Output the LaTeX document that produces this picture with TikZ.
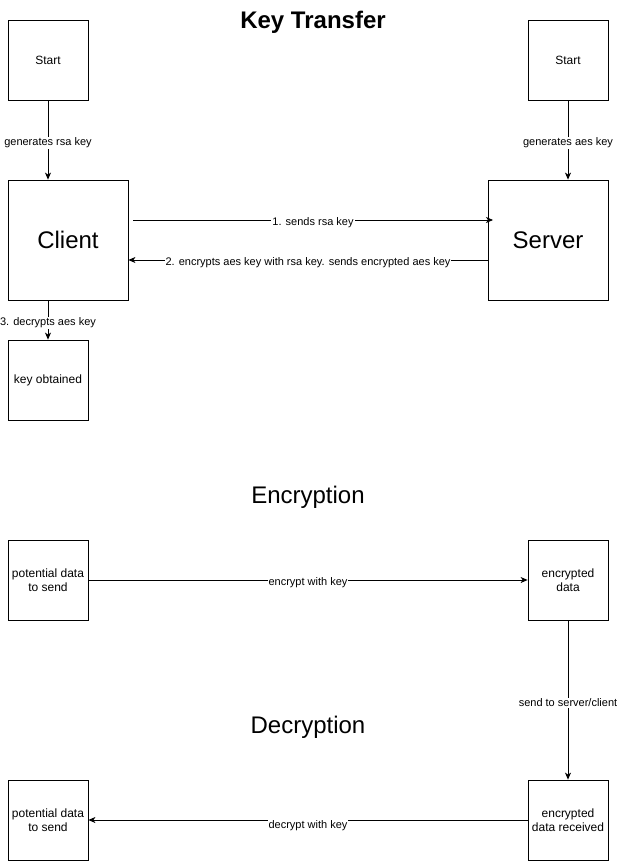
\documentclass[tikz,border=0pt]{standalone}
\usepackage{fontspec}
\setmainfont{Liberation Sans}
\usetikzlibrary{arrows.meta}
\begin{document}
\begin{tikzpicture}[x=1pt,y=-1pt,
  box/.style={draw,line width=0.8pt,minimum width=80pt,minimum height=80pt,inner sep=0pt,align=center,font=\fontsize{12}{14}\selectfont},
  bigbox/.style={box,minimum width=120pt,minimum height=120pt,font=\fontsize{24}{28}\selectfont},
  conn/.style={draw,line width=0.8pt,-{Stealth[length=7pt,width=6pt,inset=2pt]}},
  lbl/.style={fill=white,inner sep=1pt,yshift=-3pt,font=\fontsize{11}{13}\selectfont},
  ttl/.style={yshift=-2pt,font=\fontsize{24}{28}\selectfont}]
\useasboundingbox (0,0) rectangle (618,861);
\node[ttl,font=\fontsize{24}{28}\selectfont\bfseries] (t1) at (313,20) {Key Transfer};
\node[ttl] (t2) at (308,495) {Encryption};
\node[ttl] (t3) at (308,725) {Decryption};
\node[box] (s1) at (48,60) {Start};
\node[box] (s2) at (568,60) {Start};
\node[bigbox] (cl) at (68,240) {Client};
\node[bigbox] (sv) at (548,240) {Server};
\node[box] (ko) at (48,380) {key obtained};
\node[box] (p1) at (48,580) {potential data\\to send};
\node[box] (ed) at (568,580) {encrypted\\data};
\node[box] (er) at (568,820) {encrypted\\data received};
\node[box] (p2) at (48,820) {potential data\\to send};
\coordinate (a1) at (133,220);
\coordinate (a2) at (493,220);
\draw[conn] (s1.south) -- node[lbl]{generates rsa key} (s1.south |- cl.north);
\draw[conn] (s2.south) -- node[lbl]{generates aes key} (s2.south |- sv.north);
\draw[conn] (a1) -- node[lbl]{1. sends rsa key} (a2);
\draw[conn] (sv.west |- 0,260) -- node[lbl]{2. encrypts aes key with rsa key. sends encrypted aes key} (cl.east |- 0,260);
\draw[conn] (ko.north |- cl.south) -- node[lbl]{3. decrypts aes key} (ko.north);
\draw[conn] (p1.east) -- node[lbl]{encrypt with key} (ed.west);
\draw[conn] (ed.south) -- node[lbl]{send to server/client} (er.north);
\draw[conn] (er.west) -- node[lbl,yshift=-3pt]{decrypt with key} (p2.east);
\end{tikzpicture}
\end{document}
